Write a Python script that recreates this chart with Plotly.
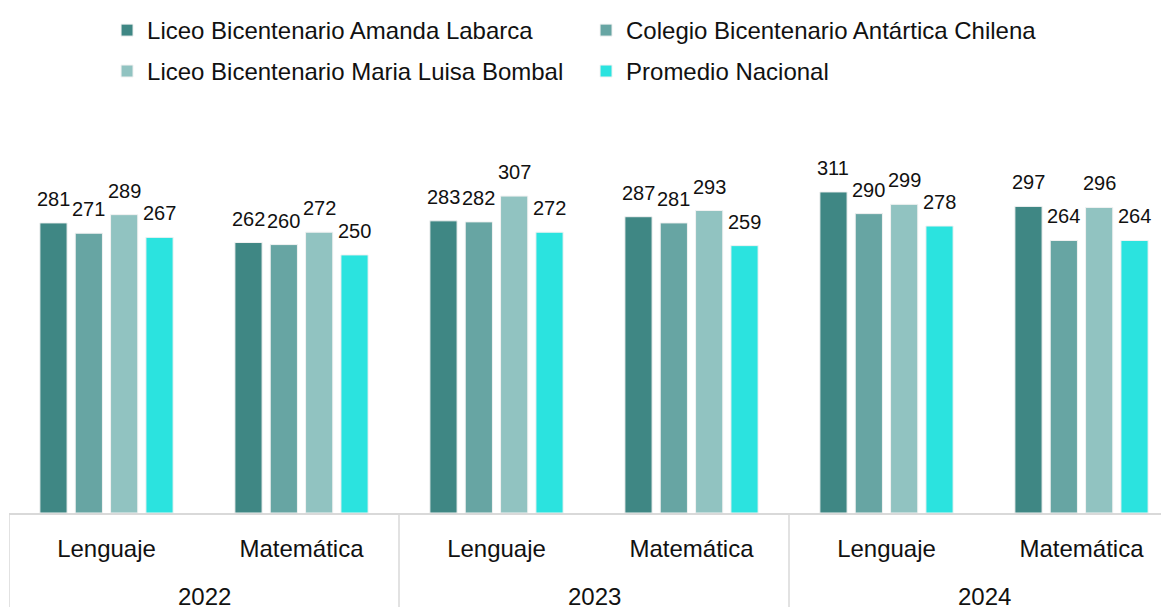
import plotly.graph_objects as go

years = ["2022", "2023", "2024"]
subjects = ["Lenguaje", "Matemática", "Lenguaje", "Matemática", "Lenguaje", "Matemática"]
series_names = [
    "Liceo Bicentenario Amanda Labarca",
    "Colegio Bicentenario Antártica Chilena",
    "Liceo Bicentenario Maria Luisa Bombal",
    "Promedio Nacional",
]
amanda = [281, 262, 283, 287, 311, 297]
antartica = [271, 260, 282, 281, 290, 264]
bombal = [289, 272, 307, 293, 299, 296]
nacional = [267, 250, 272, 259, 278, 264]
series_values = [amanda, antartica, bombal, nacional]
colors = ["#3F8784", "#67A5A3", "#91C3C1", "#2BE3DF"]
legend_ids = ["legend", "legend", "legend2", "legend2"]

FONT = "Liberation Sans, Arial, sans-serif"
TXT = "#111111"
xpos = list(range(len(subjects)))
BARGAP = 0.275
nser = len(series_names)
slot = (1 - BARGAP) / nser

fig = go.Figure()
annotations = []
for k, (name, vals, col, lg) in enumerate(zip(series_names, series_values, colors, legend_ids)):
    fig.add_trace(go.Bar(
        x=xpos, y=vals, name=name, legend=lg,
        marker=dict(color=col, line=dict(color="#F2F2F2", width=1)),
    ))
    off = (k - (nser - 1) / 2) * slot
    for xi, v in zip(xpos, vals):
        annotations.append(dict(x=xi + off, y=v, xref="x", yref="y", text=str(v),
                                showarrow=False, yanchor="bottom", yshift=11,
                                font=dict(family=FONT, size=20, color=TXT)))

# page has an 8px body margin: figure is drawn 8px in from the window corner
W, H = 1161, 599
ml, mr, mt, mb = 1, 0, 154, 94
plot_w = W - ml - mr
cat_px = 195
xmax = -0.5 + plot_w / cat_px

shapes = []
for b in [-0.5, 1.5, 3.5, 5.5]:
    shapes.append(dict(type="line", xref="x", yref="paper", x0=b, x1=b, y0=0, y1=-0.3,
                       line=dict(color="#D9D9D9", width=1.5)))

for i, yr in enumerate(years):
    annotations.append(dict(x=2 * i + 0.5, y=0, xref="x", yref="paper", text=yr,
                            showarrow=False, yanchor="middle", yshift=-83,
                            font=dict(family=FONT, size=24, color=TXT)))

leg_common = dict(orientation="h", xref="container", yref="container", x=0.0853,
                  xanchor="left", yanchor="top", entrywidth=434,
                  font=dict(family=FONT, size=24, color=TXT), bgcolor="rgba(0,0,0,0)")

fig.update_layout(
    width=W, height=H,
    margin=dict(l=ml, r=mr, t=mt, b=mb),
    paper_bgcolor="white", plot_bgcolor="white",
    barmode="group", bargap=BARGAP, bargroupgap=0.23,
    font=dict(family=FONT, size=24, color=TXT),
    showlegend=True,
    legend=dict(y=1.0, **leg_common),
    legend2=dict(y=0.93 + 1 / H, **leg_common),
    xaxis=dict(range=[-0.5, xmax], tickvals=xpos, ticktext=subjects, showgrid=False,
               showline=True, linecolor="#D9D9D9", linewidth=1.5, ticks="",
               ticklabelstandoff=13, tickfont=dict(family=FONT, size=24, color=TXT),
               zeroline=False),
    yaxis=dict(range=[0, 340], visible=False, showgrid=False, zeroline=False),
    shapes=shapes, annotations=annotations,
)
fig.write_html("out.html")
